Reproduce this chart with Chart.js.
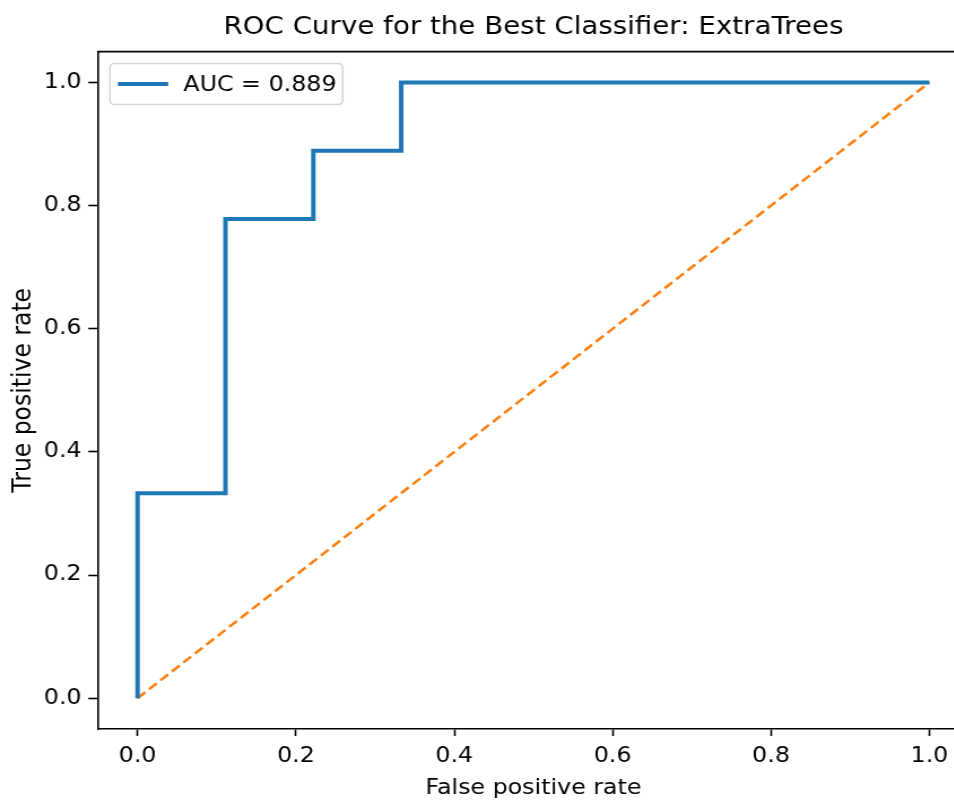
<!DOCTYPE html>
<html>
<head>
<meta charset="utf-8">
<script src="https://cdn.jsdelivr.net/npm/chart.js@4/dist/chart.umd.min.js"></script>
<style>
html, body { margin:0; padding:0; background:#fff; overflow:hidden; width:954px; height:801px; }
#wrap { width:870px; height:801px; position:absolute; left:0; top:0; transform-origin:0 0; transform:scaleX(1.13); }
canvas { display:block; }
</style>
</head>
<body>
<div id="wrap"><canvas id="c" width="870" height="801" style="width:870px;height:801px"></canvas></div>
<script>
const chartTitle = "ROC Curve for the Best Classifier: ExtraTrees";
const xLabel = "False positive rate";
const yLabel = "True positive rate";
const rocLabel = "AUC = 0.889";
const fpr = [0, 0, 0.111, 0.111, 0.222, 0.222, 0.333, 0.333, 1];
const tpr = [0, 0.333, 0.333, 0.778, 0.778, 0.889, 0.889, 1, 1];
const diagX = [0, 1];
const diagY = [0, 1];
const xTicks = [0, 0.2, 0.4, 0.6, 0.8, 1.0];
const yTicks = [0, 0.2, 0.4, 0.6, 0.8, 1.0];

const FONT = "DejaVu Sans";
const toPts = (xs, ys) => xs.map((x, i) => ({x: x, y: ys[i]}));

const frameAndLegend = {
  id: 'frameAndLegend',
  afterDatasetsDraw(chart) {
    const ctx = chart.ctx, a = chart.chartArea;
    ctx.save();
    ctx.strokeStyle = '#000';
    ctx.lineWidth = 1.6;
    ctx.beginPath();
    ctx.moveTo(a.left, a.top); ctx.lineTo(a.right + 1, a.top);
    ctx.stroke();
    // legend
    const ds = chart.data.datasets[0];
    const bx = a.left + 10.6, by = a.top + 12, bw = 206, bh = 41, r = 4;
    ctx.beginPath();
    ctx.roundRect(bx, by, bw, bh, r);
    ctx.fillStyle = 'rgba(255,255,255,0.8)';
    ctx.fill();
    ctx.strokeStyle = '#d4d4d4';
    ctx.lineWidth = 1.5;
    ctx.stroke();
    const cy = by + bh / 2;
    ctx.strokeStyle = ds.borderColor;
    ctx.lineWidth = ds.borderWidth;
    ctx.beginPath();
    ctx.moveTo(bx + 7, cy); ctx.lineTo(bx + 51.5, cy);
    ctx.stroke();
    ctx.fillStyle = '#000';
    ctx.font = '21px "' + FONT + '"';
    ctx.textBaseline = 'middle';
    ctx.textAlign = 'left';
    ctx.fillText(ds.label, bx + 65, cy + 1);
    ctx.restore();
  }
};

new Chart(document.getElementById('c'), {
  type: 'scatter',
  data: {
    datasets: [
      { label: rocLabel, data: toPts(fpr, tpr), showLine: true, borderColor: '#1f77b4', borderWidth: 4,
        pointRadius: 0, fill: false, tension: 0, borderCapStyle: 'butt', borderJoinStyle: 'miter' },
      { label: 'diagonal', data: toPts(diagX, diagY), showLine: true, borderColor: '#ff7f0e', borderWidth: 2.5,
        borderDash: [9, 4.5], pointRadius: 0, fill: false, tension: 0 }
    ]
  },
  options: {
    responsive: false,
    maintainAspectRatio: false,
    devicePixelRatio: 1,
    animation: false,
    layout: { padding: { left: 0, right: 12.5, top: 0, bottom: 0 } },
    plugins: {
      legend: { display: false },
      tooltip: { enabled: false },
      title: { display: true, text: chartTitle, color: '#000', fullSize: false,
        font: { family: FONT, size: 24.5, weight: 'normal', lineHeight: 1.2 }, padding: { top: 13, bottom: 9.2 } }
    },
    scales: {
      x: {
        type: 'linear', min: -0.05, max: 1.05,
        afterBuildTicks: (s) => { s.ticks = xTicks.map(v => ({value: v})); },
        afterFit: (s) => { s.height = 72; },
        grid: { drawOnChartArea: false, drawTicks: true, tickLength: 7, color: '#000', tickWidth: 1.6 },
        border: { display: true, color: '#000', width: 1.6 },
        ticks: { color: '#000', padding: 8, font: { family: FONT, size: 21, lineHeight: 1.2 }, maxRotation: 0,
          callback: (v) => Number(v).toFixed(1) },
        title: { display: true, text: xLabel, color: '#000', font: { family: FONT, size: 21, lineHeight: 1.2 }, padding: { top: 0, bottom: 0 } }
      },
      y: {
        type: 'linear', min: -0.05, max: 1.05,
        afterBuildTicks: (s) => { s.ticks = yTicks.map(v => ({value: v})); },
        afterFit: (s) => { s.width = 86.7; },
        grid: { drawOnChartArea: false, drawTicks: true, tickLength: 8.5, color: '#000', tickWidth: 1.6 },
        border: { display: true, color: '#000', width: 1.6 },
        ticks: { color: '#000', padding: 6, font: { family: FONT, size: 21, lineHeight: 1.2 },
          callback: (v) => Number(v).toFixed(1) },
        title: { display: true, text: yLabel, color: '#000', font: { family: FONT, size: 23.5, lineHeight: 1.2 }, padding: { top: 6.7, bottom: 0 } }
      }
    }
  },
  plugins: [frameAndLegend]
});
</script>
</body>
</html>
